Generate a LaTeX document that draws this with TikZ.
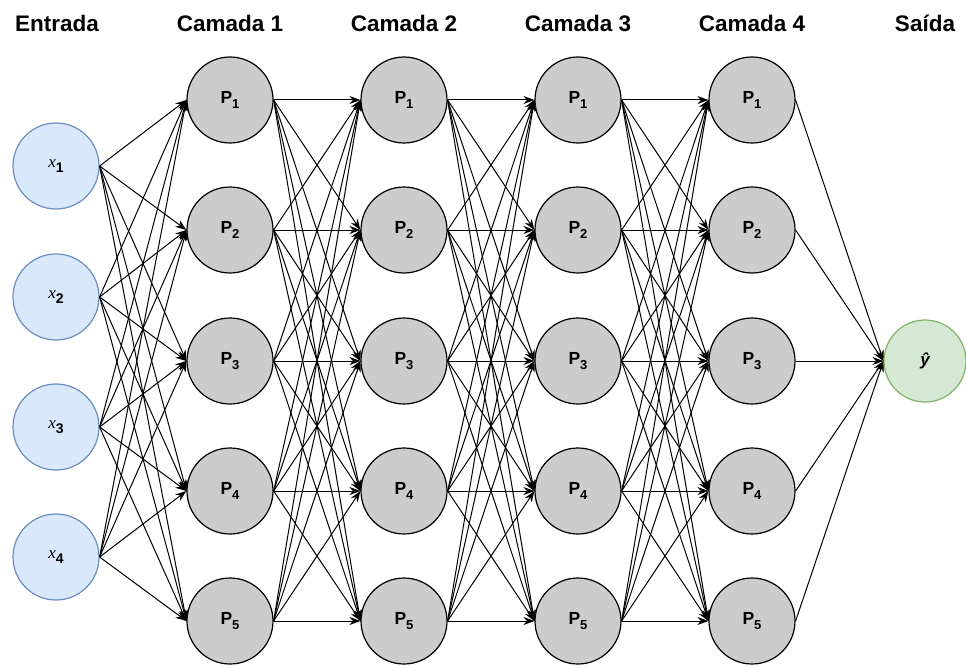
\documentclass[tikz,border=0pt]{standalone}
\usepackage{fontspec}
\setmainfont{Liberation Sans}
\newfontfamily\serifit{Liberation Serif}
\usetikzlibrary{arrows.meta}
\newcommand\lowsub[3]{\raisebox{-#2pt}{\fontsize{#3}{#3}\selectfont\bfseries #1}}
\definecolor{inFill}{HTML}{DAE8FC}
\definecolor{inDraw}{HTML}{6C8EBF}
\definecolor{outFill}{HTML}{D5E8D4}
\definecolor{outDraw}{HTML}{82B366}
\definecolor{hidFill}{HTML}{CCCCCC}
\tikzset{
  neuron/.style={circle, minimum size=86pt, inner sep=0pt, line width=1.2pt},
  innode/.style={neuron, fill=inFill, draw=inDraw},
  hidnode/.style={neuron, fill=hidFill, draw=black},
  outnode/.style={neuron, minimum size=82pt, fill=outFill, draw=outDraw},
  header/.style={font=\fontsize{22.5}{22.5}\selectfont\bfseries, anchor=base},
  link/.style={draw=black, line width=1pt, -{Stealth[length=11pt,width=8pt]}}
}
\begin{document}
\begin{tikzpicture}[x=1pt,y=-1pt]
\useasboundingbox (0,0) rectangle (966,666);

% column headers
\node[header] (hIn) at (57,32) {Entrada};
\node[header] (h1) at (230,32) {Camada 1};
\node[header] (h2) at (404,32) {Camada 2};
\node[header] (h3) at (578,32) {Camada 3};
\node[header] (h4) at (752,32) {Camada 4};
\node[header] (hOut) at (925,32) {Saída};

% input neurons
\foreach \i/\y in {1/166,2/297,3/427,4/557}
  \node[innode] (x\i) at (56,\y) {{\serifit\itshape\fontsize{17}{17}\selectfont x}\lowsub{\i}{5}{14}};

% hidden layers
\foreach \l/\x in {1/230,2/404,3/578,4/752}
  \foreach \j/\y in {1/100,2/230,3/361,4/491,5/621}
    \node[hidnode] (p\l-\j) at (\x,\y) {\fontsize{17.5}{17.5}\selectfont\bfseries P\lowsub{\j}{4.5}{13}};

% output neuron
\node[outnode] (yhat) at (925,361) {\fontsize{17}{17}\selectfont\bfseries\itshape ŷ};

% input -> layer 1
\foreach \i in {1,...,4}
  \foreach \j in {1,...,5}
    \draw[link] (x\i.east) -- (p1-\j.west);

% layer l -> layer l+1
\foreach \l/\m in {1/2,2/3,3/4}
  \foreach \i in {1,...,5}
    \foreach \j in {1,...,5}
      \draw[link] (p\l-\i.east) -- (p\m-\j.west);

% layer 4 -> output
\foreach \i in {1,...,5}
  \draw[link] (p4-\i.east) -- (yhat.west);

\end{tikzpicture}
\end{document}
